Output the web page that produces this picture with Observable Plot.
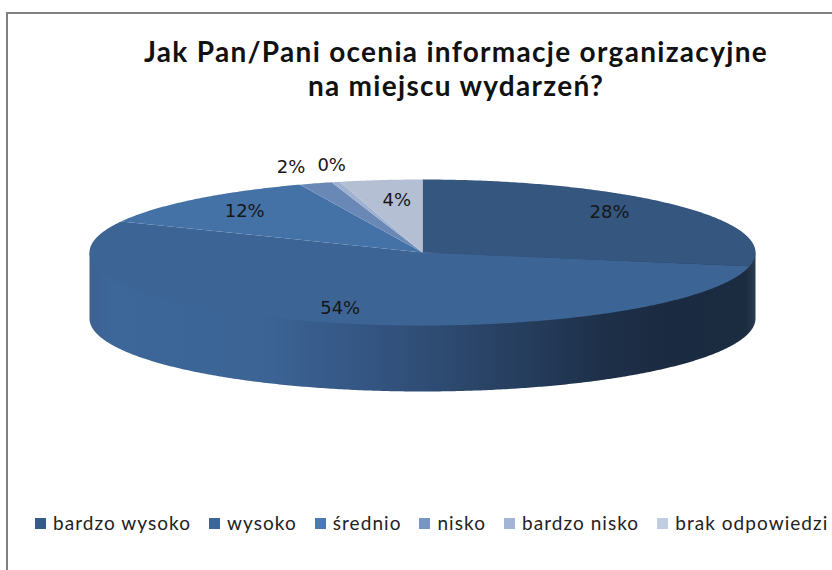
<!DOCTYPE html>
<html lang="pl">
<head>
<meta charset="utf-8">
<script src="https://cdn.jsdelivr.net/npm/d3@7"></script>
<script src="https://cdn.jsdelivr.net/npm/@observablehq/plot@0.6"></script>
<style>
  html, body { margin: 0; padding: 0; background: #fff; width: 832px; height: 570px; overflow: hidden; }
  #frame { margin: 12px 0 0 6px; width: 900px; height: 600px; border-top: 2px solid #808080; border-left: 2px solid #808080; position: relative; }
  #title { width: 896px; margin: 0; height: 100px; box-sizing: border-box; padding: 20px 0 0 0; }
  #title div { width: 826px; margin-left: 35px; text-align: center; font: 700 28px/34px Lato, sans-serif; letter-spacing: 1.3px; color: #111; }
  #chart svg { display: block; }
  #legend { display: flex; margin: 21px 0 0 0; padding: 0 0 0 27px; white-space: nowrap; font: 400 19px/20px Lato, sans-serif; letter-spacing: 1.05px; color: #222; }
  #legend .item { display: flex; align-items: center; margin-right: 18px; }
  #legend .sw { width: 11px; height: 11px; margin-right: 7px; }
</style>
</head>
<body>
<div id="frame">
  <div id="title"></div>
  <div id="chart"></div>
  <div id="legend"></div>
</div>
<script>
const titleLines = ["Jak Pan/Pani ocenia informacje organizacyjne", "na miejscu wydarzeń?"];
const categories = ["bardzo wysoko", "wysoko", "średnio", "nisko", "bardzo nisko", "brak odpowiedzi"];
const values = [28, 54, 12, 1.6, 0.4, 4];
const labels = ["28%", "54%", "12%", "2%", "0%", "4%"];
const sliceColors = ["#34567f", "#3c6595", "#4471a6", "#6a88b6", "#a0b2d2", "#b4bfd4"];
const legendColors = ["#365a8a", "#3c6699", "#4a7ab5", "#7896c4", "#a3b5d6", "#c0cce2"];
// where each percentage sits: radius as a share of the pie, and turn away from the slice's mid-angle (degrees)
const labelRadius = [0.785, 0.8, 0.78, 1.23, 1.22, 0.716];
const labelTurn = [-4.7, 0, 0, 0, 2.2, 1];
const wallDepth = 0.904; // thickness of the pie, in units of the vertical radius

const total = d3.sum(values);
const toRad = d => d * Math.PI / 180;
let cum = 0;
const slices = values.map((v, i) => {
  const a0 = cum / total * 360; cum += v;
  return {name: categories[i], a0, a1: cum / total * 360, label: labels[i], r: labelRadius[i], turn: labelTurn[i]};
});
const rim = (deg, r = 1, drop = 0) => ({x: r * Math.sin(toRad(deg)), y: r * Math.cos(toRad(deg)) - drop});
const arcDegs = (a0, a1) => { const n = Math.max(2, Math.ceil(a1 - a0) * 2); return d3.range(n + 1).map(k => a0 + (a1 - a0) * k / n); };

const facePoints = slices.flatMap(s => [
  {name: s.name, x: 0, y: 0},
  ...arcDegs(s.a0, s.a1).map(d => ({name: s.name, ...rim(d)}))
]);
const wallPoints = [
  rim(90), rim(270),
  ...arcDegs(90, 270).reverse().map(d => rim(d, 1, wallDepth))
];
const labelPoints = slices.map(s => ({label: s.label, ...rim((s.a0 + s.a1) / 2 + s.turn, s.r)}));

const wallStops = [[0, "#3e6290"], [0.03, "#3d6699"], [0.25, "#3c6596"], [0.42, "#345582"], [0.59, "#2a4467"], [0.77, "#1e3049"], [0.87, "#1a2a40"], [0.985, "#1b2b40"], [1, "#2c3b50"]];

const chart = Plot.plot({
  width: 826, height: 378,
  margin: 0,
  x: {axis: null, domain: [-1, 1], range: [81, 747]},
  y: {axis: null, domain: [-1, 1], range: [211, 65]},
  color: {domain: categories, range: sliceColors},
  marks: [
    () => {
      const ns = "http://www.w3.org/2000/svg";
      const defs = document.createElementNS(ns, "defs");
      const g = document.createElementNS(ns, "linearGradient");
      g.setAttribute("id", "wallGradient");
      wallStops.forEach(([o, c]) => {
        const st = document.createElementNS(ns, "stop");
        st.setAttribute("offset", o); st.setAttribute("stop-color", c);
        g.appendChild(st);
      });
      defs.appendChild(g);
      return defs;
    },
    Plot.line(wallPoints, {x: "x", y: "y", fill: "url(#wallGradient)", stroke: "none"}),
    Plot.line(facePoints, {x: "x", y: "y", z: "name", fill: "name", stroke: "none"}),
    Plot.text(labelPoints, {x: "x", y: "y", text: "label", fontSize: 18, fontFamily: "'DejaVu Sans', sans-serif", fill: "#161616"})
  ]
});
document.getElementById("chart").appendChild(chart);

document.getElementById("title").replaceChildren(...titleLines.map(t => { const d = document.createElement("div"); d.textContent = t; return d; }));
const legend = d3.select("#legend");
categories.forEach((c, i) => {
  const it = legend.append("div").attr("class", "item");
  it.append("span").attr("class", "sw").style("background", legendColors[i]);
  it.append("span").text(c);
});
</script>
</body>
</html>
